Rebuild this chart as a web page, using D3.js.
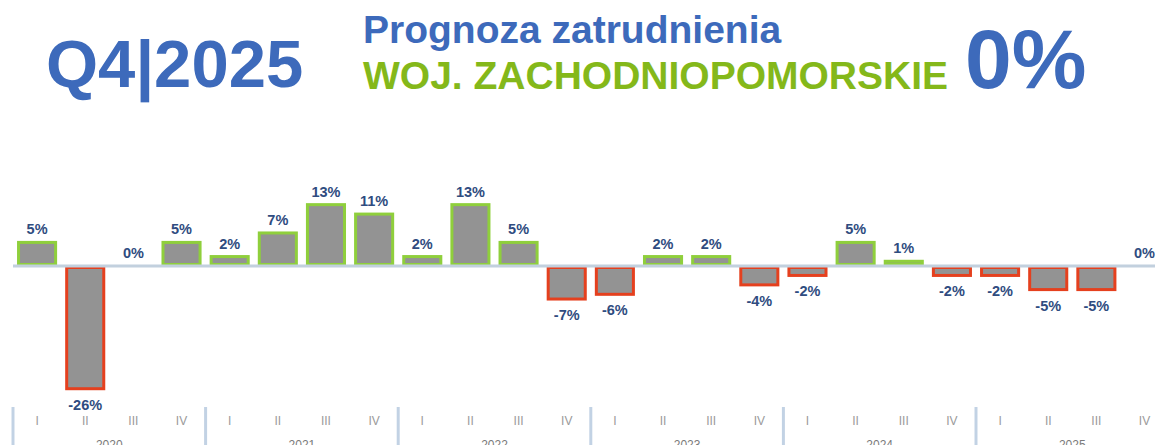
<!DOCTYPE html>
<html>
<head>
<meta charset="utf-8">
<script src="https://cdn.jsdelivr.net/npm/d3@7"></script>
<style>
  html, body { margin: 0; padding: 0; background: #fff; overflow: hidden; }
  svg { display: block; font-family: "Liberation Sans", Arial, sans-serif; }
</style>
</head>
<body>
<svg id="chart" width="1155" height="445"></svg>
<script>
'use strict';

// data
let years = ['2020', '2021', '2022', '2023', '2024', '2025'];
let quarters = ['I', 'II', 'III', 'IV'];
let values = [5, -26, 0, 5,  2, 7, 13, 11,  2, 13, 5, -7,  -6, 2, 2, -4,  -2, 5, 1, -2,  -2, -5, -5, 0];

let periods = [];
years.forEach(y => quarters.forEach(q => periods.push({ year: y, q: q })));
let data = periods.map((p, i) => ({ year: p.year, q: p.q, key: p.year + '-' + p.q, value: values[i] }));

let svg = d3.select('#chart');
let blue = '#3d6abb';
let green = '#84b81a';

// title block
svg.append('text')
    .attr('x', 46).attr('y', 87)
    .attr('fill', blue)
    .attr('style', 'font-size: 67px; font-weight: bold;')
    .text('Q4|2025');

svg.append('text')
    .attr('x', 363).attr('y', 43)
    .attr('fill', blue)
    .attr('style', 'font-size: 39px; font-weight: bold;')
    .text('Prognoza zatrudnienia');

svg.append('text')
    .attr('x', 363).attr('y', 89)
    .attr('fill', green)
    .attr('style', 'font-size: 39px; font-weight: bold;')
    .text('WOJ. ZACHODNIOPOMORSKIE');

svg.append('text')
    .attr('x', 965).attr('y', 88)
    .attr('fill', blue)
    .attr('style', 'font-size: 84px; font-weight: bold;')
    .text('0%');

// scales
let left = 13;
let step = 48.15;
let x = d3.scaleBand()
    .domain(data.map(d => d.key))
    .range([left, left + step * data.length])
    .paddingInner(0.23)
    .paddingOuter(0.115);

let y = d3.scaleLinear()
    .domain([-26, 13])
    .range([266 + 26 * 4.72, 266 - 13 * 4.72]);

let g = svg.append('g');

// bars
g.selectAll('rect.bar')
    .data(data.filter(d => d.value !== 0))
    .enter().append('rect')
    .attr('class', 'bar')
    .attr('x', d => x(d.key))
    .attr('width', x.bandwidth())
    .attr('y', d => d.value > 0 ? y(d.value) : y(0) + 1.5)
    .attr('height', d => d.value > 0 ? y(0) - y(d.value) - 1.5 : y(d.value) - y(0) - 1.5)
    .attr('fill', '#939393')
    .attr('stroke', d => d.value > 0 ? '#8fcf3c' : '#e5401e')
    .attr('stroke-width', 3);

// zero line
g.append('line')
    .attr('x1', left).attr('x2', 1155)
    .attr('y1', y(0)).attr('y2', y(0))
    .attr('stroke', '#c2d0de')
    .attr('stroke-width', 3);

// value labels
g.selectAll('text.val')
    .data(data)
    .enter().append('text')
    .attr('class', 'val')
    .attr('x', d => x(d.key) + x.bandwidth() / 2)
    .attr('y', d => d.value >= 0 ? y(d.value) - 8 : y(d.value) + 21)
    .attr('text-anchor', 'middle')
    .attr('fill', '#2f4c80')
    .attr('style', 'font-size: 14.5px; font-weight: bold;')
    .text(d => d.value + '%');

// bottom axis: quarter labels
g.selectAll('text.q')
    .data(data)
    .enter().append('text')
    .attr('class', 'q')
    .attr('x', d => x(d.key) + x.bandwidth() / 2)
    .attr('y', 425)
    .attr('text-anchor', 'middle')
    .attr('fill', '#9a9a9a')
    .attr('style', 'font-size: 12px;')
    .text(d => d.q);

// year separators and labels (cut by the bottom edge, as in the source)
years.forEach((yr, i) => {
    let x0 = left + i * 4 * step;
    g.append('line')
        .attr('x1', x0).attr('x2', x0)
        .attr('y1', 407).attr('y2', 445)
        .attr('stroke', '#c2d2e4')
        .attr('stroke-width', 3);
    g.append('text')
        .attr('x', x0 + 2 * step)
        .attr('y', 449)
        .attr('text-anchor', 'middle')
        .attr('fill', '#7a7a7a')
        .attr('style', 'font-size: 12px;')
        .text(yr);
});
</script>
</body>
</html>
